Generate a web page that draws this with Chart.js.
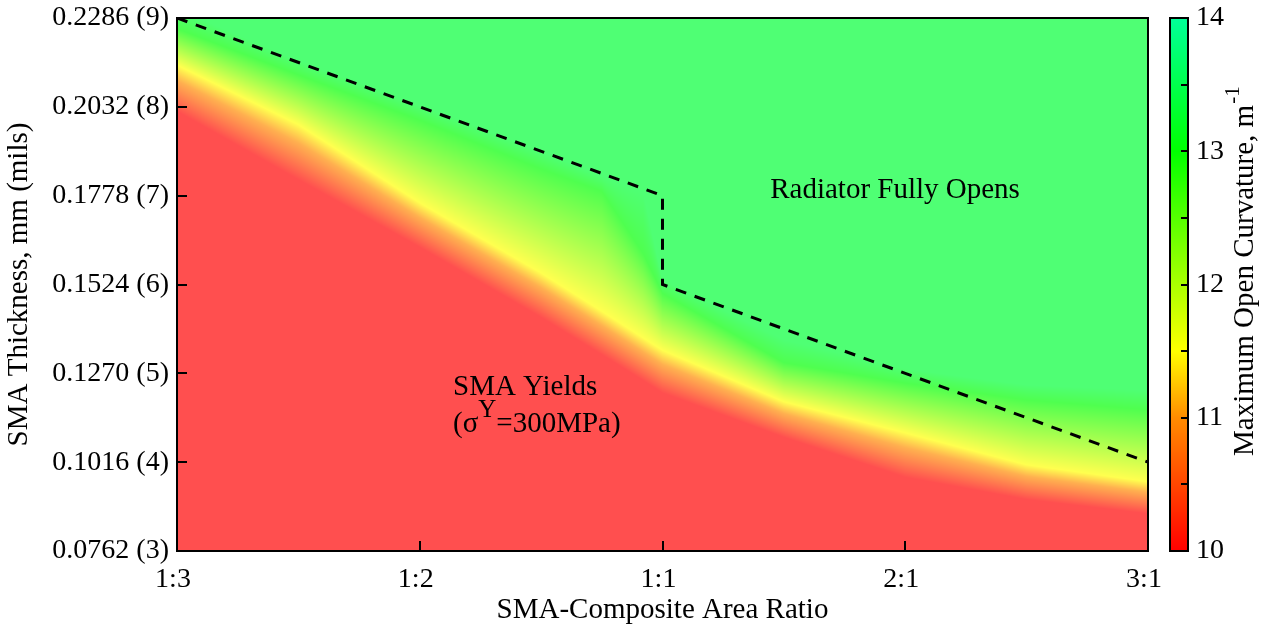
<!DOCTYPE html>
<html>
<head>
<meta charset="utf-8">
<title>SMA thickness vs. area ratio</title>
<script src="https://cdn.jsdelivr.net/npm/chart.js@4.4.1/dist/chart.umd.min.js"></script>
<style>
  html, body { margin: 0; padding: 0; background: #fff; }
  #wrap { position: relative; width: 1271px; height: 632px; }
</style>
</head>
<body>
<div id="wrap"><canvas id="curvatureChart" width="1271" height="632"></canvas></div>
<script>
// area ratio categories, placed at 0..4 on a linear x axis
const ratioLabels = ['1:3', '1:2', '1:1', '2:1', '3:1'];

// contour lines of the max open curvature field (thickness in mils at each x position)
const contourX     = [0, 0.5, 1, 1.5, 1.75, 1.92, 2, 2.5, 3, 3.5, 4];
const yieldEdge    = [7.95, 7.18, 6.42, 5.63, 5.21, 4.92, 4.78, 4.28, 3.83, 3.58, 3.42];
const yellowLine   = [8.47, 7.80, 6.92, 6.13, 5.70, 5.40, 5.26, 4.68, 4.33, 3.97, 3.78];
const greenLine    = [8.88, 8.36, 7.85, 7.30, 7.05, 6.35, 5.90, 5.12, 4.89, 4.70, 4.59];
const plateauLine  = [9.10, 8.52, 8.02, 7.50, 7.22, 7.05, 6.05, 5.38, 5.05, 4.87, 4.81];
const contourLevels = [10, 11.5, 13, 13.35];

// dashed limit where the radiator fully opens (x position, mils)
const boundaryX    = [0, 2, 2, 4];
const boundaryMils = [9, 7, 6, 4];

// colour map for the curvature scale
const colorStops = [10, 11, 11.5, 13, 14];
const colorRGB   = [[255, 0, 0], [255, 140, 0], [255, 255, 0], [0, 255, 0], [0, 255, 153]];

const plotAlpha = 0.69;
const serif = '"Liberation Serif", "Times New Roman", serif';

Chart.defaults.font.family = serif;
Chart.defaults.font.size = 28;
Chart.defaults.color = '#000';

function interpolate(xs, ys, x) {
    if (x <= xs[0]) return ys[0];
    for (let i = 1; i < xs.length; i++) {
        if (x <= xs[i]) {
            const t = (x - xs[i - 1]) / (xs[i] - xs[i - 1]);
            return ys[i - 1] + t * (ys[i] - ys[i - 1]);
        }
    }
    return ys[ys.length - 1];
}

function curvature(lines, mils) {
    if (mils <= lines[0]) return contourLevels[0];
    for (let i = 1; i < lines.length; i++) {
        if (mils <= lines[i]) {
            const t = (mils - lines[i - 1]) / (lines[i] - lines[i - 1]);
            return contourLevels[i - 1] + t * (contourLevels[i] - contourLevels[i - 1]);
        }
    }
    return contourLevels[contourLevels.length - 1];
}

function colorFor(v, alpha) {
    const c = [0, 1, 2].map(k => interpolate(colorStops, colorRGB.map(rgb => rgb[k]), v));
    return c.map(ch => Math.round(ch * alpha + 255 * (1 - alpha)));
}

// keep the vertical axes from pushing the plot area down
function fixVertical(width) {
    return s => {
        s.width = width;
        s.paddingTop = 0;
        s.paddingBottom = 0;
    };
}

// smooth curvature field painted behind the dashed line
const heatFieldPlugin = {
    id: 'heatField',
    beforeDatasetsDraw(chart) {
        const { ctx, chartArea: area, scales } = chart;
        const w = Math.round(area.right - area.left);
        const h = Math.round(area.bottom - area.top);
        const off = document.createElement('canvas');
        off.width = w;
        off.height = h;
        const octx = off.getContext('2d');
        const img = octx.createImageData(w, h);
        const rowMils = [];
        for (let j = 0; j < h; j++) rowMils.push(scales.y.getValueForPixel(area.top + j + 0.5));
        const allLines = [yieldEdge, yellowLine, greenLine, plateauLine];
        for (let i = 0; i < w; i++) {
            const xv = scales.x.getValueForPixel(area.left + i + 0.5);
            const lines = allLines.map(l => interpolate(contourX, l, xv));
            for (let j = 0; j < h; j++) {
                const c = colorFor(curvature(lines, rowMils[j]), plotAlpha);
                const k = (j * w + i) * 4;
                img.data[k] = c[0];
                img.data[k + 1] = c[1];
                img.data[k + 2] = c[2];
                img.data[k + 3] = 255;
            }
        }
        octx.putImageData(img, 0, 0);
        ctx.drawImage(off, area.left, area.top);
    }
};

// plot frame with inward tick marks
const framePlugin = {
    id: 'frame',
    afterDatasetsDraw(chart) {
        const { ctx, chartArea: a, scales } = chart;
        ctx.save();
        ctx.strokeStyle = '#000';
        ctx.lineWidth = 2;
        ctx.beginPath();
        scales.y.ticks.forEach(t => {
            const py = Math.round(scales.y.getPixelForValue(t.value));
            ctx.moveTo(a.left, py);
            ctx.lineTo(a.left + 10, py);
        });
        scales.x.ticks.forEach(t => {
            const px = Math.round(scales.x.getPixelForValue(t.value));
            ctx.moveTo(px, a.bottom);
            ctx.lineTo(px, a.bottom - 10);
        });
        ctx.stroke();
        ctx.strokeRect(a.left, a.top, a.right - a.left, a.bottom - a.top);
        ctx.restore();
    }
};

// colour bar beside the plot, using the cb scale for positions
const colorbarPlugin = {
    id: 'colorbar',
    afterDraw(chart) {
        const { ctx, chartArea: a, scales } = chart;
        const cb = scales.cb;
        const left = a.right + 22, right = a.right + 40;
        ctx.save();
        for (let py = Math.round(cb.top); py < Math.round(cb.bottom); py++) {
            const c = colorFor(cb.getValueForPixel(py + 0.5), 1);
            ctx.fillStyle = 'rgb(' + c.join(',') + ')';
            ctx.fillRect(left, py, right - left, 1);
        }
        ctx.strokeStyle = '#000';
        ctx.lineWidth = 2;
        ctx.beginPath();
        cb.ticks.forEach(t => {
            const py = Math.round(cb.getPixelForValue(t.value));
            ctx.moveTo(right, py);
            ctx.lineTo(right - 7, py);
        });
        ctx.stroke();
        ctx.strokeRect(left, cb.top, right - left, cb.bottom - cb.top);

        // rotated colour bar title with superscript
        const main = 'Maximum Open Curvature, m';
        ctx.translate(1245, 456);
        ctx.rotate(-Math.PI / 2);
        ctx.fillStyle = '#000';
        ctx.textBaseline = 'middle';
        ctx.textAlign = 'left';
        ctx.font = '29px ' + serif;
        ctx.fillText(main, 0, 0);
        const w = ctx.measureText(main).width;
        ctx.font = '21px ' + serif;
        ctx.fillText('-1', w + 1, -12);
        ctx.restore();
    }
};

// region notes inside the plot
const notesPlugin = {
    id: 'notes',
    afterDatasetsDraw(chart) {
        const { ctx, scales: { x, y } } = chart;
        ctx.save();
        ctx.fillStyle = '#000';
        ctx.textBaseline = 'middle';
        ctx.font = '29px ' + serif;
        ctx.textAlign = 'center';
        ctx.fillText('Radiator Fully Opens', x.getPixelForValue(2.958), y.getPixelForValue(7.06));

        ctx.textAlign = 'left';
        const lx = x.getPixelForValue(1.137);
        ctx.fillText('SMA Yields', lx, y.getPixelForValue(4.84));
        const ly = y.getPixelForValue(4.42);
        ctx.fillText('(\u03c3', lx, ly);
        let off = ctx.measureText('(\u03c3').width;
        ctx.font = '25px ' + serif;
        ctx.fillText('Y', lx + off, ly - 14);
        off += ctx.measureText('Y').width;
        ctx.font = '29px ' + serif;
        ctx.fillText('=300MPa)', lx + off, ly);
        ctx.restore();
    }
};

const boundaryData = boundaryX.map((bx, i) => ({ x: bx, y: boundaryMils[i] }));

new Chart(document.getElementById('curvatureChart'), {
    type: 'line',
    data: {
        datasets: [{
            label: 'Fully open limit',
            data: boundaryData,
            borderColor: '#000',
            borderWidth: 3,
            borderDash: [11, 9],
            borderCapStyle: 'butt',
            pointRadius: 0,
            fill: false,
            tension: 0
        }]
    },
    options: {
        responsive: false,
        animation: false,
        events: [],
        layout: { padding: { top: 18, left: 0, right: 0, bottom: 0 } },
        plugins: {
            legend: { display: false },
            tooltip: { enabled: false }
        },
        scales: {
            x: {
                type: 'linear',
                min: 0,
                max: 4,
                afterFit: s => { s.height = 81; },
                grid: { display: false, drawTicks: false },
                border: { display: false },
                ticks: {
                    stepSize: 1,
                    padding: 12,
                    labelOffset: -4,
                    autoSkip: false,
                    maxRotation: 0,
                    callback: v => ratioLabels[v]
                },
                title: {
                    display: true,
                    text: 'SMA-Composite Area Ratio',
                    font: { size: 29 },
                    padding: { top: 0, bottom: 4 }
                }
            },
            y: {
                type: 'linear',
                position: 'left',
                min: 3,
                max: 9,
                afterFit: fixVertical(177),
                grid: { display: false, drawTicks: false },
                border: { display: false },
                ticks: {
                    stepSize: 1,
                    padding: 8,
                    autoSkip: false,
                    callback: v => (v * 0.0254).toFixed(4) + ' (' + v + ')'
                },
                title: {
                    display: true,
                    text: 'SMA Thickness, mm (mils)',
                    font: { size: 29 },
                    padding: { top: 2, bottom: 0 }
                }
            },
            cb: {
                type: 'linear',
                position: 'right',
                min: 10,
                max: 14,
                afterFit: fixVertical(123),
                grid: { display: false, drawTicks: false },
                border: { display: false },
                ticks: {
                    stepSize: 0.5,
                    padding: 48,
                    autoSkip: false,
                    callback: v => Number.isInteger(v) ? v : ''
                }
            }
        }
    },
    plugins: [heatFieldPlugin, framePlugin, colorbarPlugin, notesPlugin]
});
</script>
</body>
</html>
